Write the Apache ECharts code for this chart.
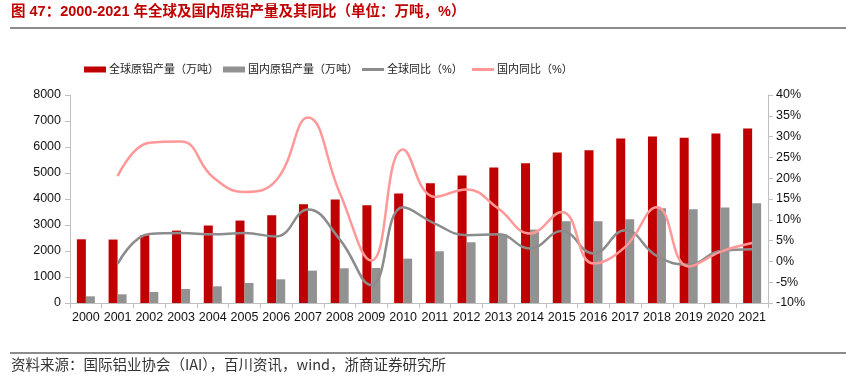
<!DOCTYPE html>
<html>
<head>
<meta charset="utf-8">
<script src="https://cdn.jsdelivr.net/npm/echarts@6/dist/echarts.min.js"></script>
<style>
html,body{margin:0;padding:0;background:#fff;}
#c{width:846px;height:377px;}
</style>
</head>
<body>
<div id="c"></div>
<script>
var years = ['2000','2001','2002','2003','2004','2005','2006','2007','2008','2009','2010','2011','2012','2013','2014','2015','2016','2017','2018','2019','2020','2021'];
var globalProd = [2450,2440,2605,2785,2980,3170,3375,3800,3980,3760,4210,4608,4904,5212,5379,5785,5879,6329,6406,6354,6521,6714];
var chinaProd = [257,334,424,540,642,770,911,1245,1335,1348,1707,1990,2336,2644,2824,3145,3145,3222,3646,3607,3671,3838];
var globalYoY = [null,-0.6,6.6,6.8,6.5,6.8,6.0,12.5,5.3,-5.7,13.0,9.1,6.3,6.5,3.1,7.3,1.9,7.5,1.3,-0.8,2.5,2.9];
var chinaYoY = [null,20.5,28.5,28.8,20.3,16.7,19.5,34.6,16.5,0.2,26.9,15.5,17.3,12.7,6.7,11.9,-0.5,3.5,13.0,-1.2,2.3,4.4];
var leftTicks = {min:0, max:8000, interval:1000};
var rightTicks = {min:-10, max:40, interval:5};
var names = ['全球原铝产量（万吨）','国内原铝产量（万吨）','全球同比（%）','国内同比（%）'];

var cjk = '"Liberation Sans", Arial, "Noto Sans CJK SC", sans-serif';
var chart = echarts.init(document.getElementById('c'), null, {renderer:'canvas'});
function lg(name, left, icon, h){
  return {data:[{name:name, icon:icon}], left:left, top:59, itemWidth:22, itemHeight:h, itemGap:0,
    textStyle:{fontSize:11, color:'#222', fontFamily:cjk, padding:[0,0,0,-2]}, selectedMode:false};
}
chart.setOption({
  animation:false,
  backgroundColor:'#fff',
  graphic:[
    {type:'text', left:11, top:5, style:{text:'图 47：2000-2021 年全球及国内原铝产量及其同比（单位：万吨，%）', fill:'#C00000', font:'bold 14.5px "Liberation Sans", Arial, "Noto Sans CJK SC", sans-serif'}},
    {type:'rect', left:10, top:27, shape:{width:836, height:2}, style:{fill:'#8C8C8C'}},
    {type:'rect', left:10, top:352, shape:{width:836, height:2}, style:{fill:'#8C8C8C'}},
    {type:'text', left:11, top:357, style:{text:'资料来源：国际铝业协会（IAI），百川资讯，wind，浙商证券研究所', fill:'#333', font:'14.5px "Noto Sans CJK SC", sans-serif'}}
  ],
  legend:[
    lg(names[0], 79, 'rect', 6),
    lg(names[1], 218, 'rect', 6),
    lg(names[2], 357, 'rect', 3),
    lg(names[3], 467, 'rect', 3)
  ],
  grid:{left:70, right:78, top:95, bottom:74, containLabel:false},
  xAxis:{type:'category', data:years, boundaryGap:true,
    axisLine:{lineStyle:{color:'#BFBFBF', width:1}},
    axisTick:{show:true, inside:false, length:5, alignWithLabel:false, lineStyle:{color:'#BFBFBF'}},
    axisLabel:{color:'#111', fontSize:12.5, fontFamily:'"Liberation Sans", Arial, sans-serif', margin:8, interval:0}
  },
  yAxis:[
    {type:'value', min:leftTicks.min, max:leftTicks.max, interval:leftTicks.interval,
      axisLine:{show:true, lineStyle:{color:'#BFBFBF'}},
      axisTick:{show:true, length:5, lineStyle:{color:'#BFBFBF'}},
      splitLine:{show:false},
      axisLabel:{color:'#111', fontSize:12.5, fontFamily:'"Liberation Sans", Arial, sans-serif', margin:9, formatter:function(v){return String(v);}}},
    {type:'value', min:rightTicks.min, max:rightTicks.max, interval:rightTicks.interval, position:'right',
      axisLine:{show:true, lineStyle:{color:'#BFBFBF'}},
      axisTick:{show:true, length:5, lineStyle:{color:'#BFBFBF'}},
      splitLine:{show:false},
      axisLabel:{color:'#111', fontSize:12.5, fontFamily:'"Liberation Sans", Arial, sans-serif', margin:8, formatter:'{value}%'}}
  ],
  series:[
    {name:names[0], type:'bar', data:globalProd, barWidth:9, barGap:'0%', itemStyle:{color:'#C00000'}},
    {name:names[1], type:'bar', data:chinaProd, barWidth:9, barGap:'0%', itemStyle:{color:'#929292'}},
    {name:names[2], type:'line', yAxisIndex:1, data:globalYoY, smooth:0.45, symbol:'none', lineStyle:{color:'#8C8C8C', width:2.5}, itemStyle:{color:'#8C8C8C'}},
    {name:names[3], type:'line', yAxisIndex:1, data:chinaYoY, smooth:0.45, symbol:'none', lineStyle:{color:'#FF9999', width:2.5}, itemStyle:{color:'#FF9999'}}
  ]
});
</script>
</body>
</html>
